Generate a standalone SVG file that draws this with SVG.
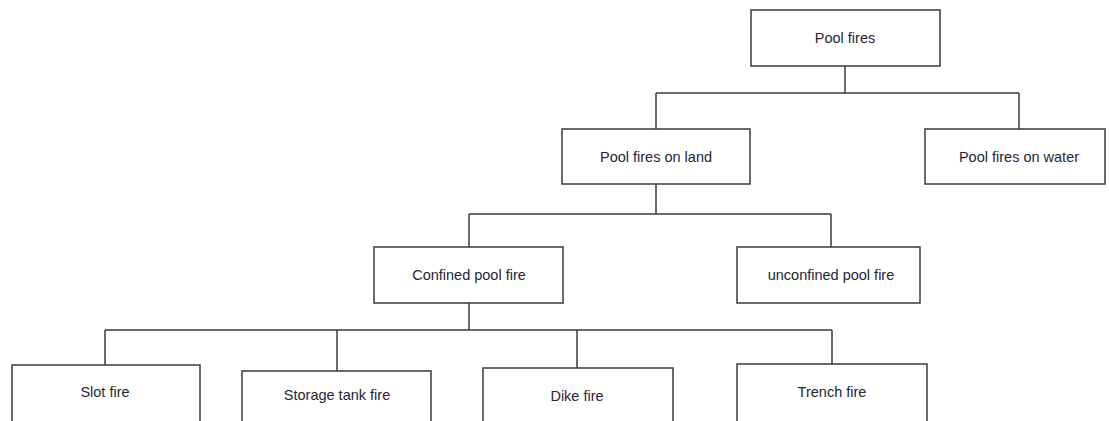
<svg xmlns="http://www.w3.org/2000/svg" width="1109" height="421" viewBox="0 0 1109 421">
<style>
.box{fill:#fff;stroke:#3a3a3a;stroke-width:1.5}
.t{font-family:"Liberation Sans",Arial,sans-serif;font-size:14.5px;fill:#262636;text-anchor:middle;dominant-baseline:central}
.c{fill:none;stroke:#3a3a3a;stroke-width:1.5}
</style>
<rect width="1109" height="421" fill="#fff"/>
<g id="connectors">
<path class="c" d="M845 66V93M656 93H1019M656 93V129M1019 93V129"/>
<path class="c" d="M656 184V214M469 214H831M469 214V247M831 214V247"/>
<path class="c" d="M469 303V330M105 330H832M105 330V365M337 330V371M577 330V368M832 330V364"/>
</g>
<g id="n-pool-fires"><rect class="box" x="751" y="10" width="189" height="56"/><text class="t" x="845" y="38">Pool fires</text></g>
<g id="n-land"><rect class="box" x="562" y="129" width="188" height="55"/><text class="t" x="656" y="157">Pool fires on land</text></g>
<g id="n-water"><rect class="box" x="925" y="129" width="180" height="55"/><text class="t" x="1019" y="157">Pool fires on water</text></g>
<g id="n-confined"><rect class="box" x="374" y="247" width="189" height="56"/><text class="t" x="469" y="275">Confined pool fire</text></g>
<g id="n-unconfined"><rect class="box" x="737" y="247" width="183" height="56"/><text class="t" x="831" y="275">unconfined pool fire</text></g>
<g id="n-slot"><rect class="box" x="12" y="365" width="188" height="70"/><text class="t" x="105" y="392">Slot fire</text></g>
<g id="n-storage"><rect class="box" x="242" y="371" width="189" height="70"/><text class="t" x="337" y="395">Storage tank fire</text></g>
<g id="n-dike"><rect class="box" x="483" y="368" width="190" height="70"/><text class="t" x="577" y="396">Dike fire</text></g>
<g id="n-trench"><rect class="box" x="737" y="364" width="190" height="70"/><text class="t" x="832" y="392">Trench fire</text></g>
</svg>
